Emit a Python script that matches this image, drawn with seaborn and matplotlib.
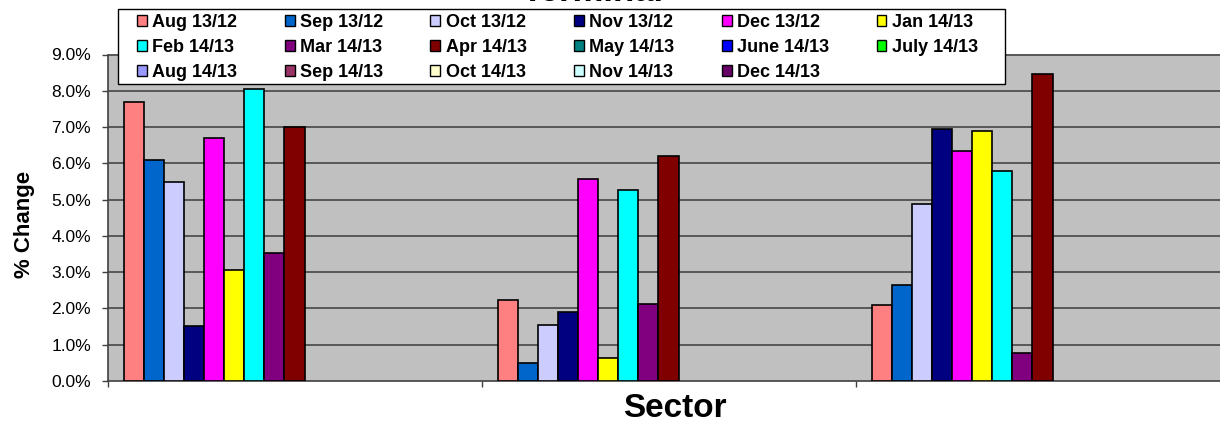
import pandas as pd
import numpy as np
import matplotlib
matplotlib.use("Agg")
import matplotlib.pyplot as plt
from matplotlib.patches import Patch, Rectangle
import seaborn as sns

# categories (x tick labels are blank in the original)
sectors = ["Sector 1", "Sector 2", "Sector 3"]

series = ["Aug 13/12", "Sep 13/12", "Oct 13/12", "Nov 13/12", "Dec 13/12",
          "Jan 14/13", "Feb 14/13", "Mar 14/13", "Apr 14/13", "May 14/13",
          "June 14/13", "July 14/13", "Aug 14/13", "Sep 14/13", "Oct 14/13",
          "Nov 14/13", "Dec 14/13"]

colors = ["#FF8080", "#0066CC", "#CCCCFF", "#000080", "#FF00FF",
          "#FFFF00", "#00FFFF", "#800080", "#800000", "#008080",
          "#0000FF", "#00FF00", "#9999FF", "#993366", "#FFFFCC",
          "#CCFFFF", "#660066"]

# % change per series, one value per sector (only first 9 series have data)
aug_13 = [7.69, 2.23, 2.09]
sep_13 = [6.10, 0.50, 2.66]
oct_13 = [5.49, 1.55, 4.88]
nov_13 = [1.52, 1.89, 6.95]
dec_13 = [6.69, 5.58, 6.35]
jan_14 = [3.07, 0.64, 6.88]
feb_14 = [8.06, 5.27, 5.79]
mar_14 = [3.53, 2.12, 0.77]
apr_14 = [7.01, 6.19, 8.46]

values = {
    "Aug 13/12": aug_13, "Sep 13/12": sep_13, "Oct 13/12": oct_13,
    "Nov 13/12": nov_13, "Dec 13/12": dec_13, "Jan 14/13": jan_14,
    "Feb 14/13": feb_14, "Mar 14/13": mar_14, "Apr 14/13": apr_14,
}

yticks = [0, 1, 2, 3, 4, 5, 6, 7, 8, 9]

rows = []
for s, vals in values.items():
    for sec, v in zip(sectors, vals):
        rows.append({"sector": sec, "series": s, "value": v})
df = pd.DataFrame(rows)

plt.rcParams['font.family'] = ['Liberation Sans', 'DejaVu Sans']

W, H = 1220, 422
fig = plt.figure(figsize=(W / 100, H / 100), dpi=100)
ax = fig.add_axes([107.5 / W, (H - 381) / H, (W - 107.5) / W, (381 - 54.5) / H])
ax.set_facecolor("#C0C0C0")

for y in yticks[1:]:
    ax.axhline(y, color="#505050", lw=1.3, zorder=0)

sns.barplot(data=df, x="sector", y="value", hue="series", hue_order=series,
            order=sectors, palette=colors, width=0.914, saturation=1,
            edgecolor="black", linewidth=1.2, errorbar=None, legend=False,
            ax=ax, zorder=3)

ax.set_xlim(-0.5, -0.5 + (W - 107.5) / 374)
ax.set_ylim(0, 9)
ax.set_xticks([-0.5, 0.5, 1.5])
ax.set_xticklabels([])
ax.set_yticks(yticks)
ax.set_yticklabels([f"{t:.1f}%" for t in yticks], fontsize=12.5)
ax.tick_params(axis="both", length=4.3, width=1, color="#404040")
ax.tick_params(axis="y", pad=7.5)
ax.set_xlabel("")
ax.set_ylabel("")
for side in ["top", "right"]:
    ax.spines[side].set_visible(False)
for side in ["left", "bottom"]:
    ax.spines[side].set_color("#404040")
    ax.spines[side].set_linewidth(1.2)

fig.text(0.0197, 0.467, "% Change", rotation=90, ha="center", va="center",
         fontsize=16, fontweight="bold")
fig.text(0.553, 0.033, "Sector", ha="center", va="center",
         fontsize=24, fontweight="bold")
# title sits mostly above the picture, only its bottom edge shows
fig.text(593 / W, 1 - 1.2 / H, "Terminal", ha="center", va="baseline",
         fontsize=25, fontweight="bold")

# legend box (white, black border) and entries filled row by row
box = Rectangle((117.5 / W, 1 - 83.5 / H), (1005 - 117.5) / W, 74 / H,
                transform=fig.transFigure, facecolor="white",
                edgecolor="black", lw=1, zorder=4)
fig.patches.append(box)

handles = [Patch(facecolor=c, edgecolor="black", lw=1) for c in colors]
order = [i for c in range(6) for i in (c, c + 6, c + 12) if i < len(series)]
leg = fig.legend([handles[i] for i in order], [series[i] for i in order],
                 loc="upper left", ncol=6, mode="expand",
                 bbox_to_anchor=(137 / W, 1 - 83 / H, (978 - 137) / W, 69 / H),
                 prop={"weight": "bold", "size": 13}, frameon=False,
                 handlelength=0.55, handleheight=0.55, handletextpad=0.3,
                 labelspacing=0.43, borderpad=0, borderaxespad=0)
leg.set_zorder(5)

fig.savefig("out.png", dpi=100)
